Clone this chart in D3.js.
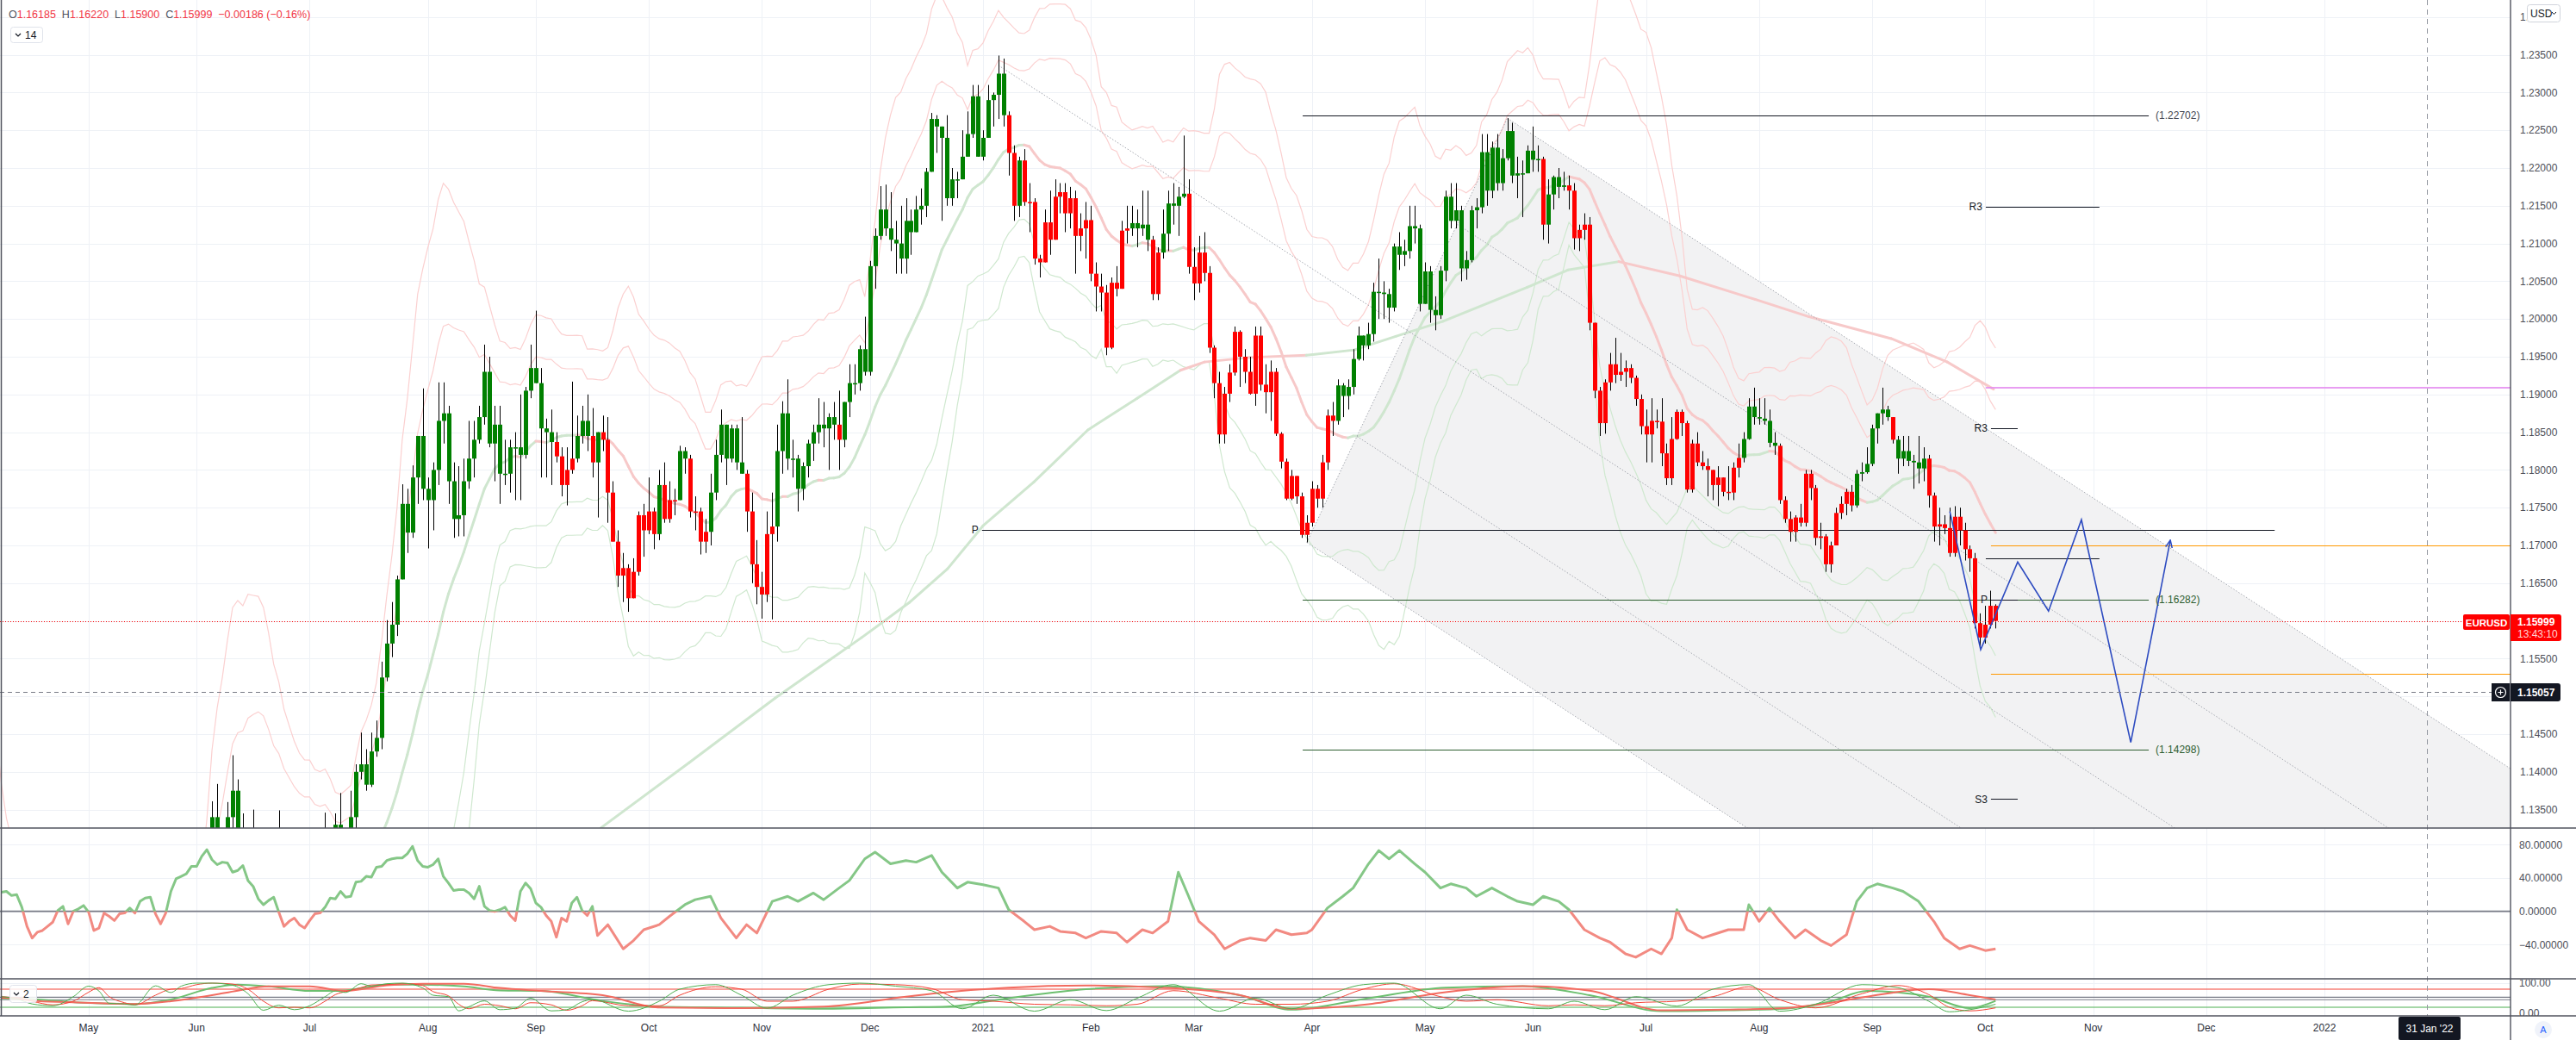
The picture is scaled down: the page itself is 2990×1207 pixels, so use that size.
<!DOCTYPE html>
<html><head><meta charset="utf-8">
<script src="https://cdn.jsdelivr.net/npm/d3@7"></script>
<style>
html,body{margin:0;padding:0;background:#fff;overflow:hidden;}
svg{display:block;font-family:"Liberation Sans",Arial,sans-serif;}
</style></head>
<body>
<svg id="chart" width="2990" height="1207"></svg>
<script>
// ================= DATA =================
const holidays = ["2020-12-25"];

// closes used only to warm up the 20-bar bands (Mar 10 - May 29 2020)
const earlyStart = "2020-03-10";
const earlyCloses = [
1.1285,1.1270,1.1180,1.1105,1.1180,1.0995,1.0915,1.0690,1.0695,1.0720,1.0790,1.0885,1.1030,1.1140,1.1045,1.1030,
1.0965,1.0855,1.0805,1.0795,1.0890,1.0860,1.0935,1.0935,1.0915,1.0985,1.0905,1.0865,1.0875,1.0865,1.0855,1.0825,1.0780,1.0820,1.0825,1.0820,1.0875,1.0955,
1.0980,1.0910,1.0840,1.0795,1.0835,1.0840,1.0805,1.0850,1.0815,1.0805,1.0820,1.0920,1.0925,1.0975,1.0945,1.0900,1.0900,1.0980,1.1005,1.1080,1.1100];

// daily EURUSD candles from 2020-06-01 (open = previous close)
const candleStart = "2020-06-01";
const closes = [
1.1135,1.1170,1.1240,1.1340,1.1290,1.1290,1.1340,1.1375,1.1300,1.1255,1.1320,1.1262,1.1245,1.1205,1.1180,1.1255,1.1308,1.1250,1.1220,1.1220,1.1245,1.1235,
1.1250,1.1240,1.1245,1.1310,1.1275,1.1330,1.1285,1.1300,1.1340,1.1400,1.1410,1.1383,1.1427,1.1445,1.1525,1.1570,1.1595,1.1655,1.1755,1.1717,1.1790,1.1845,1.1775,
1.1760,1.1800,1.1865,1.1875,1.1785,1.1735,1.1740,1.1785,1.1815,1.1840,1.1870,1.1930,1.1835,1.1860,1.1795,1.1795,1.1830,1.1830,1.1820,1.1905,1.1935,
1.1915,1.1855,1.1850,1.1837,1.1818,1.1780,1.1800,1.1815,1.1845,1.1865,1.1845,1.1810,1.1850,1.1840,1.1770,1.1705,1.1660,1.1670,1.1630,1.1665,1.1740,1.1720,
1.1745,1.1715,1.1780,1.1735,1.1760,1.1760,1.1825,1.1815,1.1745,1.1745,1.1705,1.1718,1.1770,1.1820,1.1860,1.1815,1.1855,1.1810,1.1795,1.1745,1.1675,1.1645,
1.1635,1.1715,1.1725,1.1825,1.1875,1.1815,1.1815,1.1775,1.1805,1.1835,1.1850,1.1860,1.1855,1.1870,1.1860,1.1840,1.1890,1.1915,1.1915,1.1960,1.1930,
1.2070,1.2110,1.2145,1.2120,1.2105,1.2100,1.2080,1.2130,1.2115,1.2145,1.2150,1.2195,1.2265,1.2255,1.2240,1.2160,1.2185,1.2185,1.2215,1.2245,1.2295,1.2215,
1.2240,1.2290,1.2297,1.2325,1.2270,1.2220,1.2150,1.2210,1.2155,1.2155,1.2080,1.2075,1.2128,1.2105,1.2162,1.2168,1.2140,1.2160,1.2110,1.2120,1.2131,
1.2060,1.2043,1.2035,1.1962,1.2048,1.2040,1.2117,1.2120,1.2127,1.2120,1.2125,1.2105,1.2033,1.2088,1.2113,1.2153,1.2150,1.2162,1.2166,1.2069,
1.2047,1.2088,1.2061,1.1962,1.1915,1.1847,1.1901,1.1929,1.1983,1.1950,1.1930,1.1901,1.1978,1.1913,1.1903,1.1930,1.1848,1.1811,1.1762,1.1792,1.1765,1.1714,1.1730,
1.1775,1.1762,1.1810,1.1872,1.1865,1.1912,1.1898,1.1910,1.1947,1.1978,1.1965,1.1980,1.2036,1.2035,1.2033,1.2015,1.2096,1.2085,1.2090,1.2123,1.2120,1.2020,
1.2063,1.2012,1.2005,1.2064,1.2162,1.2130,1.2144,1.2067,1.2078,1.2144,1.2148,1.2221,1.2170,1.2227,1.2180,1.2213,1.2249,1.2190,1.2193,1.2193,1.2223,
1.2211,1.2212,1.2125,1.2165,1.2188,1.2175,1.2177,1.2170,1.2107,1.2118,1.2125,1.1995,1.1905,1.1862,1.1916,1.1940,1.1926,1.1930,1.1935,1.1922,1.1894,1.1858,
1.1847,1.1865,1.1864,1.1822,1.1789,1.1841,1.1877,1.1862,1.1774,1.1835,1.1810,1.1805,1.1800,1.1780,1.1790,1.1771,1.1770,1.1803,1.1816,1.1841,1.1884,1.1870,
1.1868,1.1865,1.1836,1.1832,1.1760,1.1735,1.1718,1.1737,1.1730,1.1795,1.1776,1.1710,1.1712,1.1675,1.1700,1.1743,1.1755,1.1771,1.1753,1.1795,1.1797,1.1808,
1.1855,1.1875,1.1880,1.1870,1.1840,1.1815,1.1825,1.1812,1.1810,1.1802,1.1815,1.1766,1.1725,1.1728,1.1723,1.1690,1.1738,1.1720,1.1695,1.1683,1.1597,1.1578,
1.1595,1.1620,1.1600];
const highs = [
1.1155,1.1195,1.1257,1.1361,1.1384,1.1303,1.1360,1.1422,1.1390,1.1345,1.1315,1.1350,1.1290,1.1262,1.1257,1.1295,1.1349,1.1320,1.1265,1.1248,1.1289,1.1270,
1.1290,1.1303,1.1260,1.1346,1.1315,1.1345,1.1372,1.1315,1.1375,1.1410,1.1452,1.1430,1.1452,1.1468,1.1546,1.1601,1.1625,1.1660,1.1781,1.1775,1.1806,1.1845,1.1908,
1.1790,1.1810,1.1916,1.1916,1.1885,1.1810,1.1805,1.1815,1.1865,1.1865,1.1885,1.1966,1.1950,1.1885,1.1885,1.1840,1.1840,1.1850,1.1900,1.1910,1.1966,
1.2011,1.1935,1.1868,1.1880,1.1850,1.1830,1.1830,1.1917,1.1872,1.1885,1.1900,1.1882,1.1830,1.1872,1.1870,1.1785,1.1720,1.1690,1.1675,1.1683,1.1745,1.1755,
1.1790,1.1750,1.1800,1.1810,1.1785,1.1775,1.1832,1.1830,1.1820,1.1765,1.1750,1.1735,1.1795,1.1840,1.1880,1.1860,1.1860,1.1860,1.1870,1.1800,1.1770,1.1707,
1.1665,1.1745,1.1770,1.1860,1.1891,1.1920,1.1840,1.1820,1.1810,1.1840,1.1860,1.1895,1.1890,1.1875,1.1890,1.1905,1.1890,1.1940,1.1940,1.1965,1.2003,
1.2077,1.2120,1.2176,1.2178,1.2168,1.2130,1.2150,1.2160,1.2145,1.2163,1.2173,1.2200,1.2273,1.2270,1.2250,1.2270,1.2200,1.2195,1.2250,1.2275,1.2310,1.2310,
1.2250,1.2310,1.2300,1.2349,1.2345,1.2275,1.2230,1.2215,1.2225,1.2180,1.2160,1.2085,1.2145,1.2170,1.2185,1.2180,1.2180,1.2175,1.2170,1.2140,1.2155,
1.2150,1.2075,1.2060,1.2045,1.2055,1.2070,1.2130,1.2150,1.2150,1.2145,1.2170,1.2170,1.2110,1.2095,1.2145,1.2170,1.2180,1.2175,1.2243,1.2185,
1.2095,1.2110,1.2115,1.2070,1.1965,1.1930,1.1910,1.1940,1.1990,1.1985,1.1960,1.1950,1.1990,1.1990,1.1940,1.1945,1.1935,1.1850,1.1815,1.1800,1.1790,1.1770,1.1740,
1.1785,1.1780,1.1820,1.1880,1.1890,1.1920,1.1915,1.1920,1.1960,1.1990,1.1975,1.1995,1.2048,1.2080,1.2050,1.2040,1.2100,1.2115,1.2105,1.2150,1.2150,1.2125,
1.2075,1.2070,1.2030,1.2070,1.2170,1.2180,1.2180,1.2150,1.2090,1.2150,1.2160,1.2245,1.2245,1.2235,1.2245,1.2225,1.2266,1.2260,1.2215,1.2210,1.2230,
1.2255,1.2230,1.2215,1.2185,1.2190,1.2200,1.2195,1.2190,1.2180,1.2125,1.2140,1.2135,1.1995,1.1910,1.1920,1.1955,1.1975,1.1955,1.1945,1.1940,1.1925,1.1900,
1.1880,1.1895,1.1880,1.1895,1.1835,1.1870,1.1880,1.1880,1.1865,1.1840,1.1850,1.1825,1.1815,1.1800,1.1805,1.1790,1.1805,1.1810,1.1835,1.1850,1.1895,1.1909,
1.1895,1.1895,1.1880,1.1850,1.1835,1.1765,1.1745,1.1740,1.1755,1.1800,1.1800,1.1780,1.1730,1.1715,1.1705,1.1750,1.1765,1.1775,1.1780,1.1800,1.1810,1.1830,
1.1860,1.1870,1.1909,1.1885,1.1868,1.1845,1.1845,1.1845,1.1820,1.1845,1.1830,1.1820,1.1770,1.1750,1.1740,1.1750,1.1752,1.1750,1.1730,1.1700,1.1690,1.1610,
1.1620,1.1640,1.1622];
const lows = [
1.1085,1.1105,1.1165,1.1205,1.1272,1.1240,1.1270,1.1325,1.1290,1.1226,1.1168,1.1225,1.1215,1.1185,1.1168,1.1175,1.1240,1.1233,1.1182,1.1168,1.1200,1.1187,
1.1200,1.1220,1.1220,1.1240,1.1260,1.1260,1.1272,1.1255,1.1300,1.1325,1.1390,1.1375,1.1380,1.1420,1.1430,1.1520,1.1552,1.1580,1.1655,1.1690,1.1710,1.1755,1.1760,
1.1696,1.1720,1.1780,1.1835,1.1755,1.1710,1.1712,1.1712,1.1775,1.1790,1.1835,1.1860,1.1830,1.1785,1.1755,1.1780,1.1770,1.1760,1.1760,1.1815,1.1895,
1.1915,1.1790,1.1790,1.1780,1.1810,1.1765,1.1753,1.1795,1.1810,1.1835,1.1825,1.1790,1.1737,1.1825,1.1730,1.1705,1.1645,1.1625,1.1612,1.1630,1.1660,1.1685,
1.1715,1.1695,1.1707,1.1730,1.1730,1.1740,1.1760,1.1795,1.1737,1.1720,1.1688,1.1690,1.1700,1.1760,1.1810,1.1780,1.1810,1.1800,1.1795,1.1718,1.1650,1.1622,
1.1603,1.1625,1.1602,1.1705,1.1795,1.1800,1.1790,1.1745,1.1760,1.1790,1.1812,1.1835,1.1830,1.1800,1.1840,1.1800,1.1830,1.1870,1.1900,1.1905,1.1925,
1.1925,1.2040,1.2105,1.2110,1.2090,1.2060,1.2060,1.2060,1.2085,1.2115,1.2125,1.2135,1.2195,1.2220,1.2130,1.2150,1.2150,1.2160,1.2210,1.2215,1.2240,1.2215,
1.2210,1.2240,1.2255,1.2265,1.2255,1.2190,1.2130,1.2135,1.2150,1.2115,1.2072,1.2055,1.2075,1.2085,1.2110,1.2140,1.2115,1.2120,1.2060,1.2090,1.2080,
1.2050,1.2010,1.2010,1.1952,1.1960,1.2030,1.2040,1.2100,1.2110,1.2095,1.2110,1.2090,1.2025,1.2025,1.2080,1.2090,1.2125,1.2110,1.2160,1.2060,
1.2025,1.2035,1.2050,1.1955,1.1895,1.1835,1.1835,1.1890,1.1925,1.1910,1.1915,1.1900,1.1885,1.1905,1.1875,1.1865,1.1845,1.1802,1.1760,1.1760,1.1755,1.1710,1.1704,
1.1725,1.1750,1.1750,1.1800,1.1845,1.1860,1.1870,1.1880,1.1900,1.1945,1.1945,1.1960,1.1970,1.2000,1.2000,1.1995,1.2010,1.2065,1.2070,1.2080,1.2100,1.2010,
1.2020,1.1995,1.1985,1.2000,1.2050,1.2120,1.2120,1.2050,1.2052,1.2075,1.2120,1.2140,1.2150,1.2160,1.2170,1.2170,1.2210,1.2180,1.2160,1.2135,1.2195,
1.2195,1.2195,1.2105,1.2100,1.2145,1.2160,1.2170,1.2145,1.2092,1.2090,1.2105,1.1985,1.1895,1.1845,1.1848,1.1905,1.1915,1.1918,1.1910,1.1915,1.1885,1.1847,
1.1810,1.1810,1.1855,1.1805,1.1780,1.1780,1.1840,1.1845,1.1770,1.1770,1.1805,1.1800,1.1765,1.1760,1.1752,1.1765,1.1760,1.1760,1.1790,1.1810,1.1840,1.1860,
1.1860,1.1860,1.1830,1.1820,1.1755,1.1730,1.1705,1.1705,1.1725,1.1725,1.1760,1.1700,1.1695,1.1665,1.1664,1.1700,1.1735,1.1740,1.1745,1.1750,1.1785,1.1795,
1.1805,1.1835,1.1860,1.1865,1.1835,1.1795,1.1805,1.1805,1.1775,1.1782,1.1785,1.1750,1.1705,1.1700,1.1715,1.1685,1.1685,1.1700,1.1680,1.1665,1.1590,1.1563,
1.1570,1.1590,1.1590];
// trend colouring of each bar as shown (G = green, R = red)
const barTrend =
 "G".repeat(66) +
 "GGGGRRRRGGGRGRRRRRRRRR" + "RRGRRRGGRRRRGGGGGGGRRR" + "RRRGGGGGGGGGGGGRGGGGG" + "G".repeat(22) +
 "GGGGGRRGRRRRRRRRRRRRR" + "RRRRRRRRGGGGRRGGGGGR" + "R".repeat(23) + "RRRRR" + "G".repeat(17) +
 "G".repeat(21) + "GGRGGGG" + "R".repeat(15) + "R".repeat(19) + "GGG" +
 "GGGG" + "R".repeat(15) + "GGG" + "GGGGR" + "GGGGGG" + "R".repeat(11) + "RRR";

// long moving average (bar offset from 2021-01-01, value)
const ma200Bars = [-74.3,-57.2,-40.4,-23.6,-14.4,-6.9,0,9.9,20.4,30,38.4,43.1,51.8,62.9,72.2,80.3,89.5,105.9,113.8,123.7,135.6,150.2,160.7,176.7,187.6,196.6];
const ma200 = [1.1326,1.1412,1.1498,1.1578,1.1624,1.1669,1.1726,1.1784,1.1853,1.1895,1.1932,1.1943,1.1949,1.1952,1.1959,1.1977,1.1997,1.2042,1.2065,1.2076,1.2057,1.2026,1.2003,1.1974,1.1943,1.1907];
const ma200Trend = "UUUUUUUUUUDDDUUUUUUDDDDDD";

// axis ticks
const priceTicks = [1.135,1.14,1.145,1.15,1.155,1.16,1.165,1.17,1.175,1.18,1.185,1.19,1.195,1.2,1.205,1.21,1.215,1.22,1.225,1.23,1.235,1.24];
const tickDates = ["2020-05-01","2020-06-01","2020-07-01","2020-08-03","2020-09-01","2020-10-01","2020-11-02","2020-12-01","2021-01-01","2021-02-01","2021-03-01","2021-04-01","2021-05-03","2021-06-01","2021-07-01","2021-08-02","2021-09-01","2021-10-01","2021-11-01","2021-12-01","2022-01-03"];
const tickLabels = ["May","Jun","Jul","Aug","Sep","Oct","Nov","Dec","2021","Feb","Mar","Apr","May","Jun","Jul","Aug","Sep","Oct","Nov","Dec","2022"];
const oscTicks = [80,40,0,-40];
const stoTicks = [100,0];

// oscillator pane: one value per bar from bar -191, then sampled readings
const oscDenseStart = -191;
const oscDense = [23,24,19,20,5,-18,-32,-25,-23,-18,-13,1,6,-15,0,3,7,-1,-23,-20,-2,-6,-11,-3,-2,4,-2,12,16,17,-3,-15,-2,24,39,42,45,54,54,66,74,62,56,59,58,47,49,55,37,30,15,8,13,17,-1,-18,-12,-8,-16,-20,-11,-3,-2,5,16,15,24,17,18,35,36,42,41,53,54,61,63,64,64,69,78,61,54,53,56,63,42,34,25,26,26,22,15,30,6,1,0,2,5,-5,-11,24,34,27,10,5,-5,-12,-31,-8,-12,10,17,1,-5,6,-29];
const oscBars = [-73,-70,-68,-66,-63,-61,-58,-56,-53,-51,-48,-46,-44,-41,-38,-36,-33,-31,-28,-26,-23,-21,-18,-15,-13,-10,-8,-5,-3,0,3,5,8,10,13,15,18,20,23,26,28,31,33,36,38,40,42,45,47,50,52,55,57,60,63,64,67,70,72,75,77,79,81,84,86,89,91,94,96,99,102,104,107,109,112,114,117,120,122,125,127,130,132,134,135,137,140,142,145,148,149,151,153,155,158,160,163,165,168,170,172,174,177,179,182,185,187,190,192,195,197];
const oscVals = [-16,-45,-35,-22,-16,-6,8,14,18,-8,-32,-16,-26,12,18,12,22,14,28,37,63,71,57,61,59,67,47,28,35,32,28,2,-12,-22,-18,-24,-26,-32,-24,-26,-37,-22,-26,-12,47,18,-12,-28,-45,-35,-32,-35,-22,-28,-26,-22,4,18,28,57,73,63,73,57,47,28,33,28,18,28,18,12,8,18,12,2,-22,-32,-37,-51,-55,-45,-51,-32,2,-22,-32,-28,-22,-22,8,-12,4,-12,-32,-22,-35,-41,-28,12,28,33,28,24,12,-12,-32,-45,-41,-47,-45];

// stochastic pane
const stochBars = [-191,-188,-185,-181,-177,-174,-172,-170,-167,-165,-161,-158,-156,-153,-150,-146,-143,-140,-137,-134,-131,-128,-126,-124,-121,-119,-116,-113,-109,-107,-104,-102,-100,-97,-94,-91,-88,-84,-81,-78,-76,-69,-63,-59,-52,-47,-42,-37,-30,-24,-17,-10,-4,2,10,17,24,30,37,46,53,60,67,74,80,89,94,100,110,115,121,127,135,142,149,155,162,171,178,184,188,192,197];
const stochK = [55,48,31,25,55,90,74,33,31,27,91,69,90,100,100,93,65,10,27,12,25,55,74,69,98,90,98,100,84,60,55,8,22,41,12,17,50,8,12,38,46,7,40,80,95,60,17,60,95,100,90,75,15,60,7,45,9,50,95,7,50,15,60,95,100,15,60,30,15,40,12,55,24,80,95,7,30,95,85,40,5,12,30];
const stochD = [50,52,40,28,40,70,85,55,35,28,60,80,82,95,100,97,80,40,18,20,18,40,62,72,85,94,95,99,92,72,58,30,15,30,25,15,35,28,10,25,42,25,25,60,88,80,40,40,80,97,95,82,45,40,30,28,25,30,75,50,30,30,40,80,98,55,40,45,25,28,25,35,40,55,88,45,18,65,92,62,20,8,18];
const slowBars = [-191,-184,-176,-165,-158,-150,-145,-139,-131,-124,-116,-109,-101,-94,-86,-74,-63,-47,-31,-15,-7,5,20,35,50,60,75,90,105,118,132,145,156,165,172,184,192,197];
const slowG = [50,46,36,31,46,84,95,89,74,76,95,95,89,76,74,41,22,18,15,20,22,50,80,90,60,12,50,85,90,60,7,10,15,40,74,55,17,41];
const slowR = [55,41,36,31,40,60,75,89,89,74,93,98,98,84,74,60,19,17,22,55,70,85,92,85,60,15,30,70,90,75,10,12,17,35,55,80,60,46];
const stochLevels = [80,53,45,20];

// pitchfork anchors
const forkDates = ["2021-01-06","2021-03-31","2021-05-25"];
const forkPrices = [1.2336,1.1704,1.2266];
const forkLevels = [0,0.25,0.5,0.75,1];

// horizontal levels (price, from bar, to bar, label)
const levelPrices = [1.22702,1.16282,1.14298,1.1721,1.2149,1.1855,1.1628,1.1683,1.1364,1.1700,1.1530,1.1909];
const levelFrom   = [62.2,62.2,62.2,-0.2,195.1,196.1,196.1,195.1,196.1,196.1,196.1,195.1];
const levelTo     = [226.8,226.8,226.8,251.3,217.2,201.3,201.3,217.2,201.3,320,320,320];
const levelLabels = ["(1.22702)","(1.16282)","(1.14298)","P","R3","R3","P","","S3","","",""];

// projected path
const projBars = [188.1,194.1,201.3,207.3,213.7,223.3,231.0];
const projPrices = [1.1745,1.1562,1.1678,1.1613,1.1734,1.1439,1.1707];

// header values
const ohlc = {O:"1.16185",H:"1.16220",L:"1.15900",C:"1.15999",chg:"\u22120.00186 (\u22120.16%)"};
const lastPrice = 1.15999, crossPrice = 1.15057, markerDate = "2022-01-31";

// ================= STYLE =================
const levelStyle = [
 {c:"#131722",w:1,side:"r"},{c:"#2e5e30",w:1,side:"r"},{c:"#2e5e30",w:1,side:"r"},{c:"#131722",w:1,side:"l"},
 {c:"#131722",w:1,side:"l"},{c:"#131722",w:1,side:"l"},{c:"#131722",w:1,side:"l"},{c:"#131722",w:1,side:"l"},
 {c:"#131722",w:1,side:"l"},{c:"#ff9800",w:1},{c:"#ff9800",w:1},{c:"#e58ef0",w:2}];
const GREEN="#008000", RED="#ff0000";

// ================= SCALES =================
const svg = d3.select("#chart");
const PR = 2914;
const days = [];
for (let t = Date.UTC(2020,2,2); t <= Date.UTC(2022,1,28); t += 86400000) {
  const d = new Date(t), w = d.getUTCDay();
  if (w === 0 || w === 6) continue;
  const s = d.toISOString().slice(0,10);
  if (holidays.includes(s)) continue;
  days.push(s);
}
const origin = days.indexOf("2021-01-01");
const bar = s => days.indexOf(s) - origin;
const x = d3.scaleLinear().domain([0,100]).range([1141, 1141 + 596.6]);
const y = d3.scaleLinear().domain([1.17,1.22]).range([633,195]);
const yOsc = d3.scaleLinear().domain([0,80]).range([1057.7,980.3]);
const ySto = d3.scaleLinear().domain([0,100]).range([1176,1141]);

const defs = svg.append("defs");
function clip(id,x0,y0,w,h){defs.append("clipPath").attr("id",id).append("rect").attr("x",x0).attr("y",y0).attr("width",w).attr("height",h);}
clip("cMain",0,0,PR,961); clip("cOsc",0,962,PR,174); clip("cSto",0,1137,PR,42);
clip("cOscUp",0,962,PR,yOsc(0)-962); clip("cOscDn",0,yOsc(0),PR,1136-yOsc(0));
clip("cStoAx",PR,1137,76,42); clip("cTopAx",PR,0,19,40);
defs.append("marker").attr("id","arr").attr("viewBox","0 0 10 10").attr("refX",9).attr("refY",5)
  .attr("markerWidth",6).attr("markerHeight",6).attr("orient","auto")
  .append("path").attr("d","M0,1 L9,5 L0,9").attr("fill","none").attr("stroke","#2d4bc0").attr("stroke-width",1.6);

svg.append("rect").attr("width",2990).attr("height",1207).attr("fill","#fff");

// ================= GRID =================
const gGrid = svg.append("g").attr("stroke","#eef1f6").attr("stroke-width",1);
priceTicks.forEach(p => gGrid.append("line").attr("x1",0).attr("x2",PR).attr("y1",Math.round(y(p))+0.5).attr("y2",Math.round(y(p))+0.5));
oscTicks.forEach(v => gGrid.append("line").attr("x1",0).attr("x2",PR).attr("y1",Math.round(yOsc(v))+0.5).attr("y2",Math.round(yOsc(v))+0.5));
gGrid.append("line").attr("x1",0).attr("x2",PR).attr("y1",1141.5).attr("y2",1141.5);
tickDates.forEach(d => { const xx = Math.round(x(bar(d)))+0.5; gGrid.append("line").attr("x1",xx).attr("x2",xx).attr("y1",0).attr("y2",1179); });

// ================= MAIN PANE =================
const gMain = svg.append("g").attr("clip-path","url(#cMain)");

// pitchfork
const fp = forkDates.map((d,i)=>[x(bar(d)), y(forkPrices[i])]);
const mid = [(fp[1][0]+fp[2][0])/2, (fp[1][1]+fp[2][1])/2];
const slope = (mid[1]-fp[0][1])/(mid[0]-fp[0][0]);
const XE = PR + 80;
const ext = pt => [XE, pt[1] + (XE-pt[0])*slope];
gMain.append("path").attr("d", d3.line()([fp[2], ext(fp[2]), ext(fp[1]), fp[1]]) + "Z").attr("fill","#f2f2f3");

// bands + MA20 computed from closes
const allCloses = earlyCloses.concat(closes);
const allStart = bar(earlyStart);
const bb = [];
for (let j = 19; j < allCloses.length; j++) {
  const w = allCloses.slice(j-19, j+1), m = d3.mean(w);
  const sd = Math.sqrt(d3.mean(w, v => (v-m)*(v-m)));
  bb.push({i: allStart + j, m, sd});
}
const bandLine = k => d3.line().x(d => x(d.i)).y(d => y(d.m + k*d.sd));
[[3,"#fbd0d0"],[2,"#fbd0d0"],[-2,"#cfe8cf"],[-3,"#cfe8cf"]].forEach(([k,c]) =>
  gMain.append("path").attr("d", bandLine(k)(bb)).attr("fill","none").attr("stroke",c).attr("stroke-width",1.2));
for (let j = 1; j < bb.length; j++) {
  const up = bb[j].m >= bb[j-1].m;
  gMain.append("line").attr("x1",x(bb[j-1].i)).attr("y1",y(bb[j-1].m)).attr("x2",x(bb[j].i)).attr("y2",y(bb[j].m))
    .attr("stroke", up ? "#cfe6cf" : "#f7c9c9").attr("stroke-width",3).attr("stroke-linecap","round");
}
// long MA
for (let j = 1; j < ma200Bars.length; j++) {
  gMain.append("line").attr("x1",x(ma200Bars[j-1])).attr("y1",y(ma200[j-1])).attr("x2",x(ma200Bars[j])).attr("y2",y(ma200[j]))
    .attr("stroke", ma200Trend[j-1]==="U" ? "#cfe6cf" : "#f7c9c9").attr("stroke-width",3).attr("stroke-linecap","round");
}

// pitchfork lines
const gFork = gMain.append("g").attr("stroke","#a6a9b1").attr("stroke-width",1).attr("stroke-dasharray","1.5,2").attr("fill","none");
forkLevels.forEach(t => {
  const q = [fp[2][0] + t*(fp[1][0]-fp[2][0]), fp[2][1] + t*(fp[1][1]-fp[2][1])];
  gFork.append("path").attr("d", d3.line()([q, ext(q)]));
});
gFork.append("path").attr("d", d3.line()([fp[0], mid]));
gFork.append("path").attr("d", d3.line()([fp[1], fp[2]]));

// horizontal levels
levelPrices.forEach((p,i) => {
  const yy = Math.round(y(p)) + (levelStyle[i].w === 2 ? 0 : 0.5);
  gMain.append("line").attr("x1", x(levelFrom[i])).attr("x2", Math.min(PR, x(levelTo[i]))).attr("y1",yy).attr("y2",yy)
    .attr("stroke", levelStyle[i].c).attr("stroke-width", levelStyle[i].w).attr("opacity", i===11 ? 0.85 : 1);
});

// candles
const cStart = bar(candleStart);
const gC = gMain.append("g");
closes.forEach((c,i) => {
  const o = i ? closes[i-1] : earlyCloses[earlyCloses.length-1];
  const h = Math.max(highs[i],o,c), l = Math.min(lows[i],o,c);
  const cx = Math.round(x(cStart+i));
  gC.append("line").attr("x1",cx+0.5).attr("x2",cx+0.5).attr("y1",y(h)).attr("y2",y(l)).attr("stroke","#000").attr("stroke-width",1);
  const top = Math.min(y(o),y(c)), hh = Math.max(1.5, Math.abs(y(o)-y(c)));
  gC.append("rect").attr("x",cx-2).attr("y",top).attr("width",5).attr("height",hh)
    .attr("fill", barTrend[i]==="G" ? GREEN : RED);
});

// projection path
gMain.append("path").attr("d", d3.line()(projBars.map((b,i)=>[x(b), y(projPrices[i])])))
  .attr("fill","none").attr("stroke","#2d4bc0").attr("stroke-width",1.6).attr("marker-end","url(#arr)");

// last price + crosshair
gMain.append("line").attr("x1",0).attr("x2",2859).attr("y1",Math.round(y(lastPrice))+0.5).attr("y2",Math.round(y(lastPrice))+0.5)
  .attr("stroke","#ff0000").attr("stroke-dasharray","1,2");
gMain.append("line").attr("x1",0).attr("x2",2892).attr("y1",Math.round(y(crossPrice))+0.5).attr("y2",Math.round(y(crossPrice))+0.5)
  .attr("stroke","#787b86").attr("stroke-dasharray","5,4");

// level labels
levelLabels.forEach((t,i) => {
  if (!t) return;
  const st = levelStyle[i];
  const right = st.side === "r";
  svg.append("text").attr("x", right ? x(levelTo[i]) + 8 : x(levelFrom[i]) - 4).attr("y", y(levelPrices[i]))
    .attr("dy","0.35em").attr("text-anchor", right ? "start" : "end").attr("font-size",12)
    .attr("fill", i===1||i===2 ? "#2e5e30" : (right ? "#434651" : "#131722")).text(t);
});

// ================= OSC PANE =================
const gOsc = svg.append("g").attr("clip-path","url(#cOsc)");
gOsc.append("line").attr("x1",0).attr("x2",PR).attr("y1",yOsc(0)).attr("y2",yOsc(0)).attr("stroke","#787b86").attr("stroke-width",1.8);
const oscPts = oscDense.map((v,k)=>[oscDenseStart+k, v]).concat(oscBars.map((b,k)=>[b, oscVals[k]]));
const oscPath = d3.line().x(d=>x(d[0])).y(d=>yOsc(d[1]))(oscPts);
gOsc.append("path").attr("d",oscPath).attr("fill","none").attr("stroke","#85c787").attr("stroke-width",3).attr("stroke-linejoin","round").attr("clip-path","url(#cOscUp)");
gOsc.append("path").attr("d",oscPath).attr("fill","none").attr("stroke","#f28a82").attr("stroke-width",3).attr("stroke-linejoin","round").attr("clip-path","url(#cOscDn)");

// ================= STOCH PANE =================
const gSto = svg.append("g").attr("clip-path","url(#cSto)");
[["#f44336"],["#787b86"],["#787b86"],["#4caf50"]].forEach(([c],k) =>
  gSto.append("line").attr("x1",0).attr("x2",PR).attr("y1",ySto(stochLevels[k])).attr("y2",ySto(stochLevels[k])).attr("stroke",c).attr("stroke-width",1.2));
const sl = (bars, vals) => d3.line().curve(d3.curveMonotoneX).x((d,k)=>x(bars[k])).y(d=>ySto(d))(vals);
gSto.append("path").attr("d",sl(slowBars,slowG)).attr("fill","none").attr("stroke","#6cbf6f").attr("stroke-width",2);
gSto.append("path").attr("d",sl(slowBars,slowR)).attr("fill","none").attr("stroke","#f26b60").attr("stroke-width",2);
gSto.append("path").attr("d",sl(stochBars,stochD)).attr("fill","none").attr("stroke","#f44336").attr("stroke-width",1);
gSto.append("path").attr("d",sl(stochBars,stochK)).attr("fill","none").attr("stroke","#4caf50").attr("stroke-width",1);

// ================= FRAME =================
const mx = Math.round(x(bar(markerDate)))+0.5;
svg.append("line").attr("x1",mx).attr("x2",mx).attr("y1",0).attr("y2",1179).attr("stroke","#9598a1").attr("stroke-dasharray","6,5");
[961,1136,1179].forEach(v => svg.append("line").attr("x1",0).attr("x2",2990).attr("y1",v).attr("y2",v).attr("stroke","#50535e").attr("stroke-width",1.6));
svg.append("line").attr("x1",PR).attr("x2",PR).attr("y1",0).attr("y2",1207).attr("stroke","#50535e").attr("stroke-width",1.4);
svg.append("line").attr("x1",1.5).attr("x2",1.5).attr("y1",0).attr("y2",1179).attr("stroke","#50535e").attr("stroke-width",1.5);

// ================= AXES =================
const axTxt = {fill:"#4c4e57", size:12};
const gTopAx = svg.append("g").attr("clip-path","url(#cTopAx)");
priceTicks.forEach(p => {
  if (Math.abs(p-1.16)<1e-9 || Math.abs(p-1.15)<1e-9) return;
  const host = p > 1.2375 ? gTopAx : svg;
  host.append("text").attr("x",2925).attr("y",y(p)).attr("dy","0.35em").attr("font-size",axTxt.size).attr("fill",axTxt.fill).text(p.toFixed(5));
});
oscTicks.forEach(v => svg.append("text").attr("x",2924).attr("y",yOsc(v)).attr("dy","0.35em").attr("font-size",axTxt.size).attr("fill",axTxt.fill)
  .text((v<0?"\u2212":"") + Math.abs(v).toFixed(5)));
const gStoAx = svg.append("g").attr("clip-path","url(#cStoAx)");
stoTicks.forEach(v => gStoAx.append("text").attr("x",2924).attr("y",ySto(v)).attr("dy","0.35em").attr("font-size",axTxt.size).attr("fill",axTxt.fill).text(v.toFixed(2)));
tickDates.forEach((d,k) => svg.append("text").attr("x",x(bar(d))).attr("y",1197).attr("text-anchor","middle")
  .attr("font-size",12).attr("fill","#2a2e39").text(tickLabels[k]));

// USD button
svg.append("rect").attr("x",2933.5).attr("y",5.5).attr("width",38).attr("height",20).attr("rx",3).attr("fill","#fff").attr("stroke","#d1d4dc");
svg.append("text").attr("x",2937).attr("y",20).attr("font-size",12).attr("fill","#131722").text("USD");
svg.append("path").attr("d","M2962,14 L2964.5,16.5 L2967,14").attr("fill","none").attr("stroke","#131722").attr("stroke-width",1);

// EURUSD label + last price
svg.append("rect").attr("x",2859).attr("y",713).attr("width",54).attr("height",18).attr("rx",2).attr("fill","#ff0000");
svg.append("text").attr("x",2886).attr("y",726.5).attr("text-anchor","middle").attr("font-size",11.5).attr("font-weight","bold").attr("fill","#fff").text("EURUSD");
svg.append("path").attr("d","M2914,713 H2970 a3,3 0 0 1 3,3 V741 a3,3 0 0 1 -3,3 H2914 Z").attr("fill","#ff0000");
svg.append("text").attr("x",2922).attr("y",726).attr("font-size",12).attr("font-weight","bold").attr("fill","#fff").text(lastPrice.toFixed(5));
svg.append("text").attr("x",2922).attr("y",740).attr("font-size",12).attr("fill","#ffd6d6").text("13:43:10");

// crosshair price label
svg.append("rect").attr("x",2892).attr("y",793).attr("width",21).attr("height",21).attr("fill","#131722");
svg.append("circle").attr("cx",2902.5).attr("cy",803.5).attr("r",6).attr("fill","none").attr("stroke","#fff").attr("stroke-width",1.2);
svg.append("path").attr("d","M2899.5,803.5 H2905.5 M2902.5,800.5 V806.5").attr("stroke","#fff").attr("stroke-width",1.2);
svg.append("path").attr("d","M2914,793 H2969 a3,3 0 0 1 3,3 V811 a3,3 0 0 1 -3,3 H2914 Z").attr("fill","#131722");
svg.append("text").attr("x",2922).attr("y",808).attr("font-size",12).attr("font-weight","bold").attr("fill","#fff").text(crossPrice.toFixed(5));

// date marker label
svg.append("rect").attr("x",2784).attr("y",1180).attr("width",72).attr("height",27).attr("rx",2).attr("fill","#131722");
svg.append("text").attr("x",2820).attr("y",1198).attr("text-anchor","middle").attr("font-size",12).attr("fill","#fff").text("31 Jan '22");

// auto-scale button
svg.append("circle").attr("cx",2952).attr("cy",1195).attr("r",10).attr("fill","#f0f3fa");
svg.append("text").attr("x",2952).attr("y",1199).attr("text-anchor","middle").attr("font-size",11).attr("fill","#2962ff").text("A");

// ================= HEADER =================
const hdr = svg.append("text").attr("x",10).attr("y",21).attr("font-size",12.5).attr("style","white-space:pre");
[["O","#50535e"],[ohlc.O,"#f23645"],["  H","#50535e"],[ohlc.H,"#f23645"],["  L","#50535e"],[ohlc.L,"#f23645"],["  C","#50535e"],[ohlc.C,"#f23645"],["  "+ohlc.chg,"#f23645"]]
  .forEach(([t,c]) => hdr.append("tspan").attr("fill",c).text(t));
svg.append("rect").attr("x",12.5).attr("y",31.5).attr("width",37).attr("height",18).attr("rx",3).attr("fill","#fff").attr("stroke","#e0e3eb");
svg.append("path").attr("d","M18,39 L21,42 L24,39").attr("fill","none").attr("stroke","#131722").attr("stroke-width",1.2);
svg.append("text").attr("x",29).attr("y",45).attr("font-size",12).attr("fill","#131722").text("14");
svg.append("rect").attr("x",11.5).attr("y",1143.5).attr("width",31).attr("height",20).attr("rx",3).attr("fill","#fff").attr("fill-opacity",0.85).attr("stroke","#e0e3eb");
svg.append("path").attr("d","M16,1152 L19,1155 L22,1152").attr("fill","none").attr("stroke","#131722").attr("stroke-width",1.2);
svg.append("text").attr("x",27).attr("y",1158).attr("font-size",12).attr("fill","#131722").text("2");
</script>
</body></html>
